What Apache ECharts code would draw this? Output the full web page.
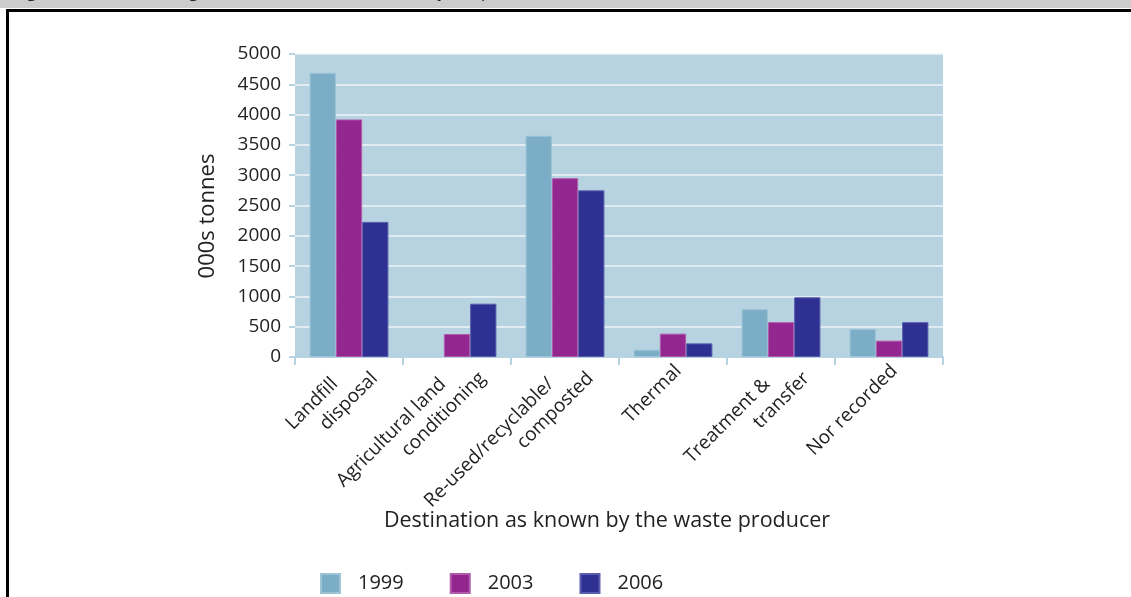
<!DOCTYPE html>
<html>
<head>
<meta charset="utf-8">
<script src="https://cdn.jsdelivr.net/npm/echarts@6/dist/echarts.min.js"></script>
<style>
  html, body { margin: 0; padding: 0; background: #ffffff; }
  #chart { width: 1131px; height: 597px; }
</style>
</head>
<body>
<div id="chart"></div>
<script>
// Waste destinations as known by the producer (000s tonnes)
const categories = [
  'Landfill\ndisposal',
  'Agricultural land\nconditioning',
  'Re-used/recyclable/\ncomposted',
  'Thermal',
  'Treatment &\ntransfer',
  'Nor recorded'
];
const years = ['1999', '2003', '2006'];
const values1999 = [4690, 0, 3650, 120, 790, 460];
const values2003 = [3920, 380, 2950, 385, 575, 270];
const values2006 = [2230, 880, 2750, 225, 985, 575];
const yTicks = { min: 0, max: 5000, interval: 500 };

const colors = ['#7BADC6', '#93278F', '#2E3192'];
const edges = ['#9CC4D6', '#B05CAB', '#5A5DAE'];
const FONT = '"Open Sans", Lato, sans-serif';

const chart = echarts.init(document.getElementById('chart'), null, { renderer: 'canvas' });

const seriesData = [values1999, values2003, values2006];

// Two-line category labels: the first line sits back from the end of the second
function categoryLabel(v) {
  const parts = v.split('\n');
  if (parts.length === 1) return '{s|' + v + '}';
  return '{a|' + parts[0] + '}\n{b|' + parts[1] + '}';
}
const labelText = { fontFamily: FONT, fontSize: 19, color: '#222', lineHeight: 24 };

chart.setOption({
  animation: false,
  backgroundColor: '#ffffff',
  textStyle: { fontFamily: FONT, color: '#222' },
  grid: { left: 295, top: 54, right: 188, bottom: 240, containLabel: false,
          show: true, backgroundColor: '#B7D2E0', borderWidth: 0 },
  legend: {
    data: years,
    left: 320, top: 573, padding: 0,
    itemWidth: 19, itemHeight: 19, itemGap: 46,
    icon: 'rect',
    textStyle: { fontFamily: FONT, fontSize: 20, color: '#222', padding: [0, 0, 0, 13] }
  },
  xAxis: {
    type: 'category',
    data: categories,
    axisLine: { show: true, lineStyle: { color: '#B7D2E0', width: 2 } },
    axisTick: { show: true, length: 8, alignWithLabel: false, lineStyle: { color: '#B7D2E0', width: 2 } },
    axisLabel: {
      rotate: 45, interval: 0, margin: -7,
      fontFamily: FONT, fontSize: 19, color: '#222',
      align: 'right', verticalAlign: 'top',
      formatter: categoryLabel,
      rich: {
        a: Object.assign({ padding: [0, 32, 0, 0] }, labelText),
        b: Object.assign({}, labelText),
        s: Object.assign({ padding: [9, 9, 0, 0] }, labelText)
      }
    },
    splitLine: { show: false }
  },
  yAxis: {
    type: 'value',
    min: yTicks.min, max: yTicks.max, interval: yTicks.interval,
    axisLine: { show: false },
    axisTick: { show: true, length: 6, lineStyle: { color: '#B7D2E0', width: 2 } },
    axisLabel: { fontFamily: FONT, fontSize: 19, color: '#222', margin: 14,
                 formatter: (v) => String(v) },
    splitLine: { show: true, lineStyle: { color: '#EEF5F9', width: 1.5 } }
  },
  series: years.map((y, i) => ({
    name: y,
    type: 'bar',
    data: seriesData[i].map(v => v === 0 ? { value: v, itemStyle: { borderWidth: 0 } } : v),
    barGap: '0%',
    barCategoryGap: '27%',
    itemStyle: { color: colors[i], borderColor: edges[i], borderWidth: 1 }
  })),
  graphic: [
    { type: 'rect', left: 0, top: 0, shape: { width: 1131, height: 8 }, style: { fill: '#CCCCCC' }, z: 10 },
    { type: 'text', x: 14, y: -16, z: 11,
      style: { text: 'Figure 3:  Waste management destination as known by the producer, 1999 to 2006',
               font: '17px ' + FONT, fill: '#222' } },
    { type: 'rect', left: 6, top: 9, shape: { width: 1125, height: 3 }, style: { fill: '#000' }, z: 12 },
    { type: 'rect', left: 6, top: 9, shape: { width: 3, height: 588 }, style: { fill: '#000' }, z: 12 },
    // y-axis title
    { type: 'text', x: 208, y: 216, rotation: Math.PI / 2, z: 5,
      style: { text: '000s tonnes', font: '22px ' + FONT, fill: '#222',
               align: 'center', verticalAlign: 'middle' } },
    // x-axis title
    { type: 'text', x: 607, y: 521, z: 5,
      style: { text: 'Destination as known by the waste producer', font: '21.5px ' + FONT, fill: '#222',
               align: 'center', verticalAlign: 'middle' } }
  ]
});
</script>
</body>
</html>
